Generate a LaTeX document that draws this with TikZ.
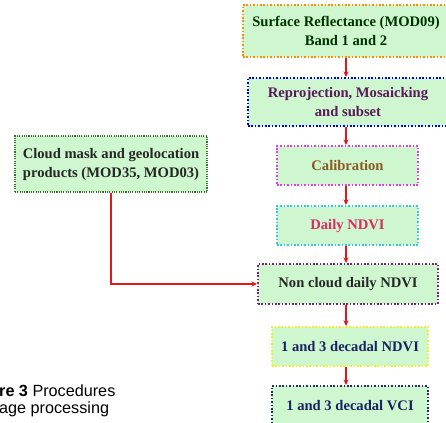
\documentclass[tikz,border=0pt]{standalone}
\usepackage{fontspec}
\setmainfont{Liberation Serif}
\newfontfamily\capfont{Liberation Sans}
\usetikzlibrary{arrows.meta}
\definecolor{boxfill}{HTML}{CFF7CF}
\definecolor{arrowred}{HTML}{E01818}
\tikzset{
  procbox/.style={draw, fill=boxfill, line width=2bp, dash pattern=on 1.6bp off 1.8bp,
    align=center, font=\fontsize{14.6bp}{19bp}\selectfont\bfseries, inner sep=0pt},
  flowarrow/.style={draw=arrowred, line width=1.1bp, -{Stealth[length=5.5bp,width=5bp]}},
  captext/.style={anchor=base west, inner sep=0pt, font=\capfont\fontsize{16.2bp}{17bp}\selectfont}
}
\begin{document}
\begin{tikzpicture}[x=1bp,y=-1bp]
\useasboundingbox (0,0) rectangle (446,422);
\node[procbox, draw=orange!90!yellow, text=black!80!green, minimum width=206bp, minimum height=52bp] (b1) at (346,31) {Surface Reflectance (MOD09)\\Band 1 and 2};
\node[procbox, draw=blue!85!black, text={rgb,255:red,90;green,25;blue,90}, minimum width=200bp, minimum height=48bp] (b2) at (348,102) {Reprojection, Mosaicking\\and subset};
\node[procbox, draw={rgb,255:red,228;green,60;blue,228}, text={rgb,255:red,140;green,90;blue,35}, minimum width=141bp, minimum height=39bp] (b3) at (347.5,165.5) {Calibration};
\node[procbox, draw={rgb,255:red,50;green,200;blue,225}, text={rgb,255:red,215;green,45;blue,100}, minimum width=141bp, minimum height=39bp] (b4) at (347.5,225.5) {Daily NDVI};
\node[procbox, draw={rgb,255:red,125;green,30;blue,125}, text=black!85, minimum width=180bp, minimum height=40bp] (b5) at (348,284) {Non cloud daily NDVI};
\node[procbox, draw={rgb,255:red,240;green,240;blue,40}, text={rgb,255:red,25;green,35;blue,100}, minimum width=156bp, minimum height=39bp] (b6) at (350,346.5) {1 and 3 decadal NDVI};
\node[procbox, draw={rgb,255:red,30;green,45;blue,95}, text={rgb,255:red,25;green,35;blue,95}, minimum width=156bp, minimum height=40bp] (b7) at (350,406) {1 and 3 decadal VCI};
\node[procbox, draw={rgb,255:red,60;green,110;blue,45}, line width=1.5bp, dash pattern=on 1.1bp off 1.2bp, text=black!85, minimum width=192bp, minimum height=56bp] (cm) at (111,164) {Cloud mask and geolocation\\products (MOD35, MOD03)};
\coordinate (ax) at (346,0);
\draw[flowarrow] (b1.south -| ax) -- (b2.north -| ax);
\draw[flowarrow] (b2.south -| ax) -- (b3.north -| ax);
\draw[flowarrow] (b3.south -| ax) -- (b4.north -| ax);
\draw[flowarrow] (b4.south -| ax) -- (b5.north -| ax);
\draw[flowarrow] (b5.south -| ax) -- (b6.north -| ax);
\draw[flowarrow] (b6.south -| ax) -- (b7.north -| ax);
\draw[flowarrow, line width=1.7bp] (cm.south) |- (b5.west);
\node[captext] (c1) at (-1,396) {\textbf{re 3} Procedures};
\node[captext] (c2) at (-1,413) {age processing};
\end{tikzpicture}
\end{document}
